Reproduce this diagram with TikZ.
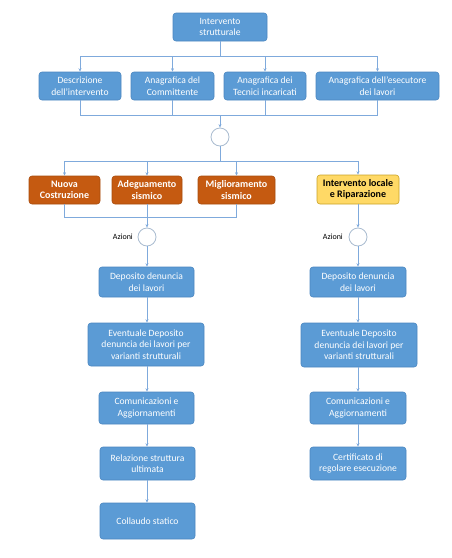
\documentclass[tikz,border=0pt]{standalone}
\usepackage{fontspec}
\setmainfont{Carlito}
\usetikzlibrary{arrows.meta}
\definecolor{bfill}{HTML}{5B9BD5}
\definecolor{bdraw}{HTML}{4A86C0}
\definecolor{ofill}{HTML}{C55A11}
\definecolor{odraw}{HTML}{A84C0E}
\definecolor{yfill}{HTML}{FFD966}
\definecolor{ydraw}{HTML}{C9A227}
\definecolor{lcol}{HTML}{7FAADC}
\definecolor{ccol}{HTML}{A9BCD0}
\tikzset{
  box/.style={rectangle, rounded corners=3pt, fill=bfill, draw=bdraw, line width=0.6pt,
    text=white, align=center, inner sep=1pt, font=\fontsize{9.6}{11.5}\selectfont},
  obox/.style={box, fill=ofill, draw=odraw, font=\bfseries\fontsize{10}{11.5}\selectfont},
  ybox/.style={box, fill=yfill, draw=ydraw, text=black, font=\bfseries\fontsize{10}{11.5}\selectfont},
  junc/.style={circle, draw=ccol, fill=white, line width=0.8pt, minimum size=18pt, inner sep=0pt},
  conn/.style={draw=lcol, line width=0.7pt},
  arr/.style={conn, -{Stealth[length=3.5pt,width=3pt]}},
  lbl/.style={font=\fontsize{8}{10}\selectfont, text=black, inner sep=0pt}
}
\begin{document}
\begin{tikzpicture}[x=1pt,y=-1pt]
\useasboundingbox (0,0) rectangle (451,558);
% top
\node[box, minimum width=94pt, minimum height=28pt] (top) at (220,27) {Intervento\\strutturale};
\node[box, minimum width=82pt, minimum height=28pt] (desc) at (80,86) {Descrizione\\dell'intervento};
\node[box, minimum width=83pt, minimum height=28pt] (comm) at (172.5,86) {Anagrafica del\\Committente};
\node[box, minimum width=82pt, minimum height=28pt] (tecn) at (265,86) {Anagrafica dei\\Tecnici incaricati};
\node[box, minimum width=123pt, minimum height=28pt] (esec) at (377.5,86) {Anagrafica dell'esecutore\\dei lavori};
\node[junc] (c1) at (220,137) {};
% orange row
\node[obox, minimum width=71pt, minimum height=28pt] (nuova) at (64.5,190) {Nuova\\Costruzione};
\node[obox, minimum width=70pt, minimum height=28pt] (adeg) at (147,190) {Adeguamento\\sismico};
\node[obox, minimum width=77pt, minimum height=28pt] (migl) at (236.5,190) {Miglioramento\\sismico};
\node[ybox, minimum width=82pt, minimum height=29pt] (loc) at (358,189.5) {Intervento locale\\e Riparazione};
\node[junc] (c2) at (147,237) {};
\node[junc] (c3) at (358,237) {};
\node[lbl, anchor=east] (az1) at (133,237) {Azioni};
\node[lbl, anchor=east] (az2) at (343,237) {Azioni};
% left column
\node[box, minimum width=95pt, minimum height=30pt] (depL) at (146.5,282) {Deposito denuncia\\dei lavori};
\node[box, minimum width=116pt, minimum height=43pt] (evL) at (146,344.5) {Eventuale Deposito\\denuncia dei lavori per\\varianti strutturali};
\node[box, minimum width=95pt, minimum height=32pt] (comL) at (146.5,408) {Comunicazioni e\\Aggiornamenti};
\node[box, minimum width=95pt, minimum height=33pt] (rel) at (147.5,463.5) {Relazione struttura\\ultimata};
\node[box, minimum width=95pt, minimum height=36pt] (coll) at (147.5,521) {Collaudo statico};
% right column
\node[box, minimum width=96pt, minimum height=30pt] (depR) at (358,282) {Deposito denuncia\\dei lavori};
\node[box, minimum width=116pt, minimum height=44pt] (evR) at (359,345) {Eventuale Deposito\\denuncia dei lavori per\\varianti strutturali};
\node[box, minimum width=96pt, minimum height=32pt] (comR) at (358,408) {Comunicazioni e\\Aggiornamenti};
\node[box, minimum width=96pt, minimum height=33pt] (cert) at (358,463.5) {Certificato di\\regolare esecuzione};
% buses
\coordinate (b1) at (220,56);
\coordinate (b2) at (220,115);
\coordinate (b3) at (220,161);
\coordinate (b4) at (147,217);
\path[conn] (top.south) -- (b1);
\path[arr] (b1) -| (desc.north);
\path[arr] (b1) -| (comm.north);
\path[arr] (b1) -| (tecn.north);
\path[arr] (b1) -| (esec.north);
\path[conn] (desc.south) |- (b2);
\path[conn] (comm.south) |- (b2);
\path[conn] (tecn.south) |- (b2);
\path[conn] (esec.south) |- (b2);
\path[arr] (b2) -- (c1.north);
\path[conn] (c1.south) -- (b3);
\path[arr] (b3) -| (nuova.north);
\path[arr] (b3) -| (adeg.north);
\path[arr] (b3) -| (migl.north);
\path[arr] (b3) -| (loc.north);
\path[conn] (nuova.south) |- (b4);
\path[conn] (adeg.south) -- (b4);
\path[conn] (migl.south) |- (b4);
\path[arr] (b4) -- (c2.north);
\path[arr] (loc.south) -- (c3.north);
\path[arr] (c2.south) -- (c2.south |- depL.north);
\path[arr] (depL.south -| c2) -- (c2 |- evL.north);
\path[arr] (evL.south -| c2) -- (c2 |- comL.north);
\path[arr] (comL.south -| c2) -- (c2 |- rel.north);
\path[arr] (rel.south -| c2) -- (c2 |- coll.north);
\path[arr] (c3.south) -- (c3.south |- depR.north);
\path[arr] (depR.south) -- (depR.south |- evR.north);
\path[arr] (evR.south -| depR) -- (depR.south |- comR.north);
\path[arr] (comR.south) -- (cert.north);
\end{tikzpicture}
\end{document}
